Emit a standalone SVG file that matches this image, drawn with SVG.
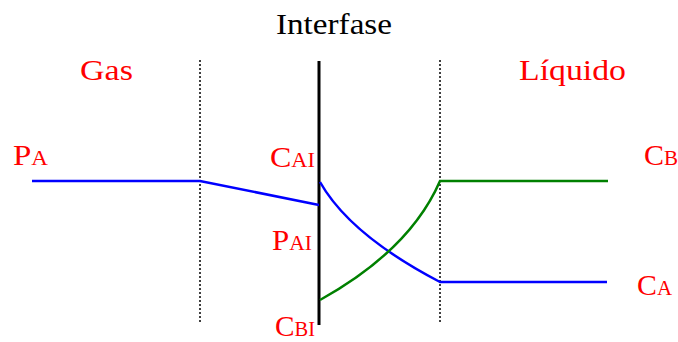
<svg xmlns="http://www.w3.org/2000/svg" width="678" height="342" viewBox="0 0 678 342">
<style>
text{font-family:"Liberation Serif","Times New Roman",serif;}
.lbl{fill:#ff0000;font-size:30px;}
.sub{font-size:21px;}
.dot{stroke:#000;stroke-width:1.5;stroke-dasharray:2 2;fill:none;}
.blue{stroke:#0000ff;stroke-width:2.5;fill:none;}
.green{stroke:#008000;stroke-width:2.5;fill:none;}
</style>
<rect width="678" height="342" fill="#fff"/>
<g id="title"><text x="334" y="34" text-anchor="middle" font-size="30" fill="#000" textLength="116" lengthAdjust="spacingAndGlyphs">Interfase</text></g>
<g id="gas"><text class="lbl" x="80" y="80" textLength="53" lengthAdjust="spacingAndGlyphs">Gas</text></g>
<g id="liquido"><text class="lbl" x="519" y="80" textLength="107" lengthAdjust="spacingAndGlyphs">Líquido</text></g>
<g id="boundaries">
<line class="dot" x1="200" y1="60" x2="200" y2="323"/>
<line class="dot" x1="440" y1="60" x2="440" y2="323"/>
<line x1="319" y1="61" x2="319" y2="325" stroke="#000" stroke-width="3"/>
</g>
<g id="connectors">
<polyline class="blue" points="32,181 200,181 319,205"/>
<path class="blue" d="M320,182 Q350,235 440,282 L607,282"/>
<path class="green" d="M320,300 Q410,250 440,181 L608,181"/>
</g>
<g id="PA"><text class="lbl" x="13" y="165" textLength="35" lengthAdjust="spacingAndGlyphs">P<tspan class="sub">A</tspan></text></g>
<g id="CAI"><text class="lbl" x="270" y="167" textLength="45" lengthAdjust="spacingAndGlyphs">C<tspan class="sub">AI</tspan></text></g>
<g id="PAI"><text class="lbl" x="272" y="250" textLength="40" lengthAdjust="spacingAndGlyphs">P<tspan class="sub">AI</tspan></text></g>
<g id="CBI"><text class="lbl" x="275" y="336" textLength="40" lengthAdjust="spacingAndGlyphs">C<tspan class="sub">BI</tspan></text></g>
<g id="CB"><text class="lbl" x="644" y="165">C<tspan class="sub">B</tspan></text></g>
<g id="CA"><text class="lbl" x="637" y="295" textLength="35" lengthAdjust="spacingAndGlyphs">C<tspan class="sub">A</tspan></text></g>
</svg>
